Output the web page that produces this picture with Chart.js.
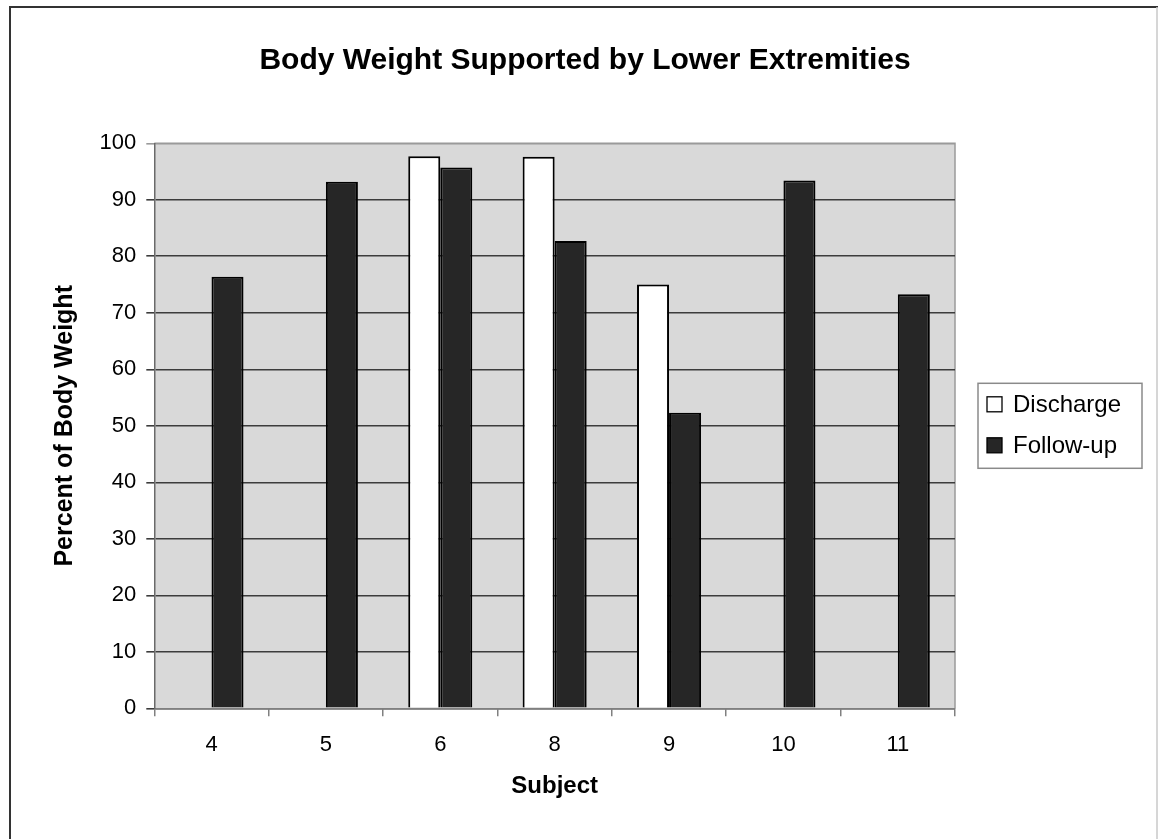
<!DOCTYPE html>
<html>
<head>
<meta charset="utf-8">
<script src="https://cdn.jsdelivr.net/npm/chart.js@4/dist/chart.umd.min.js"></script>
<style>
  html, body { margin: 0; padding: 0; background: #fff; }
  #wrap { width: 1158px; height: 839px; }
</style>
</head>
<body>
<div id="wrap"><canvas id="c" width="1158" height="839"></canvas></div>
<script>
// Subjects on the x axis
const subjects = ['4', '5', '6', '8', '9', '10', '11'];
// Percent of body weight supported, per subject (null = not measured)
const discharge = [null, null, 97.7, 97.6, 75.0, null, null];
const followUp = [76.4, 93.2, 95.7, 82.7, 52.3, 93.4, 73.3];
// Series names
const seriesNames = ['Discharge', 'Follow-up'];

const FONT = '"Liberation Sans", Arial, sans-serif';

// Grey plot area with a thin frame on the top and right
const plotBackground = {
  id: 'plotBackground',
  beforeDraw(chart) {
    const { ctx, chartArea: a } = chart;
    ctx.save();
    ctx.fillStyle = '#d9d9d9';
    ctx.fillRect(a.left, a.top, a.right - a.left, a.bottom - a.top);
    ctx.strokeStyle = '#9a9a9a';
    ctx.lineWidth = 1.5;
    ctx.beginPath();
    ctx.moveTo(a.left, a.top);
    ctx.lineTo(a.right, a.top);
    ctx.lineTo(a.right, a.bottom);
    ctx.stroke();
    ctx.restore();
  }
};

// Outer frame around the whole figure
const outerFrame = {
  id: 'outerFrame',
  afterDraw(chart) {
    const { ctx, width, height } = chart;
    ctx.save();
    ctx.lineWidth = 2;
    ctx.strokeStyle = '#333333';
    ctx.beginPath();
    ctx.moveTo(10, height);
    ctx.lineTo(10, 7);
    ctx.lineTo(width, 7);
    ctx.stroke();
    ctx.strokeStyle = '#c8c8c8';
    ctx.lineWidth = 1.5;
    ctx.beginPath();
    ctx.moveTo(width - 1, 7);
    ctx.lineTo(width - 1, height);
    ctx.stroke();
    ctx.restore();
  }
};

// Boxed legend to the right of the plot, built from the datasets
const boxedLegend = {
  id: 'boxedLegend',
  afterDraw(chart) {
    const { ctx, chartArea: a } = chart;
    const sets = chart.data.datasets;
    const boxW = 164, rowH = 41, boxH = 85;
    const left = a.right + 23;
    const top = (a.top + a.bottom) / 2 - boxH / 2;
    ctx.save();
    ctx.fillStyle = '#fff';
    ctx.fillRect(left, top, boxW, boxH);
    ctx.strokeStyle = '#8a8a8a';
    ctx.lineWidth = 1.5;
    ctx.strokeRect(left, top, boxW, boxH);
    ctx.font = '24px ' + FONT;
    ctx.textBaseline = 'middle';
    ctx.textAlign = 'left';
    sets.forEach((ds, i) => {
      const cy = top + 21 + i * rowH;
      ctx.fillStyle = ds.backgroundColor;
      ctx.fillRect(left + 9, cy - 7.5, 15, 15);
      ctx.strokeStyle = '#000';
      ctx.lineWidth = 1.3;
      ctx.strokeRect(left + 9, cy - 7.5, 15, 15);
      ctx.fillStyle = '#000';
      ctx.fillText(ds.label, left + 35, cy + 1);
    });
    ctx.restore();
  }
};

new Chart(document.getElementById('c'), {
  type: 'bar',
  data: {
    labels: subjects,
    datasets: [
      {
        label: seriesNames[0],
        data: discharge,
        backgroundColor: '#ffffff',
        borderColor: '#000000',
        borderWidth: 2
      },
      {
        label: seriesNames[1],
        data: followUp,
        backgroundColor: '#262626',
        borderColor: '#000000',
        borderWidth: 2
      }
    ]
  },
  options: {
    responsive: false,
    animation: false,
    events: [],
    layout: { padding: { left: 12, top: 0, right: 0, bottom: 0 } },
    datasets: {
      bar: { categoryPercentage: 0.56, barPercentage: 1.0 }
    },
    plugins: {
      legend: { display: false },
      tooltip: { enabled: false },
      title: {
        display: true,
        text: 'Body Weight Supported by Lower Extremities',
        color: '#000',
        font: { family: FONT, size: 30, weight: 'bold' },
        padding: { top: 43, bottom: 64.3 }
      }
    },
    scales: {
      x: {
        position: 'bottom',
        grid: {
          offset: true,
          drawOnChartArea: false,
          drawTicks: true,
          tickLength: 8,
          color: '#808080',
          lineWidth: 1.5
        },
        border: { display: true, color: '#808080', width: 1.5 },
        ticks: { color: '#000', font: { family: FONT, size: 22 }, padding: 15 },
        title: {
          display: true,
          text: 'Subject',
          color: '#000',
          font: { family: FONT, size: 24, weight: 'bold' },
          padding: { top: 0, bottom: 38.6 }
        },
        afterFit(s) { s.height = 130.7; }
      },
      y: {
        position: 'left',
        min: 0,
        max: 100,
        grid: {
          color: ctx => (ctx.tick && ctx.tick.value === 100 ? '#9a9a9a' : '#3c3c3c'),
          lineWidth: 1.6,
          tickLength: 8
        },
        border: { display: true, color: '#6a6a6a', width: 1.5 },
        ticks: {
          stepSize: 10,
          color: '#000',
          font: { family: FONT, size: 22 },
          padding: 10
        },
        title: {
          display: true,
          text: 'Percent of Body Weight',
          color: '#000',
          font: { family: FONT, size: 25, weight: 'bold' },
          padding: { top: 38.5, bottom: 0 }
        },
        afterFit(s) { s.width = 142.3; }
      },
      // keeps room on the right for the legend
      legendSpace: {
        type: 'linear',
        position: 'right',
        display: true,
        grid: { display: false },
        border: { display: false },
        ticks: { display: false },
        afterFit(s) { s.width = 203; }
      }
    }
  },
  plugins: [plotBackground, boxedLegend, outerFrame]
});
</script>
</body>
</html>
